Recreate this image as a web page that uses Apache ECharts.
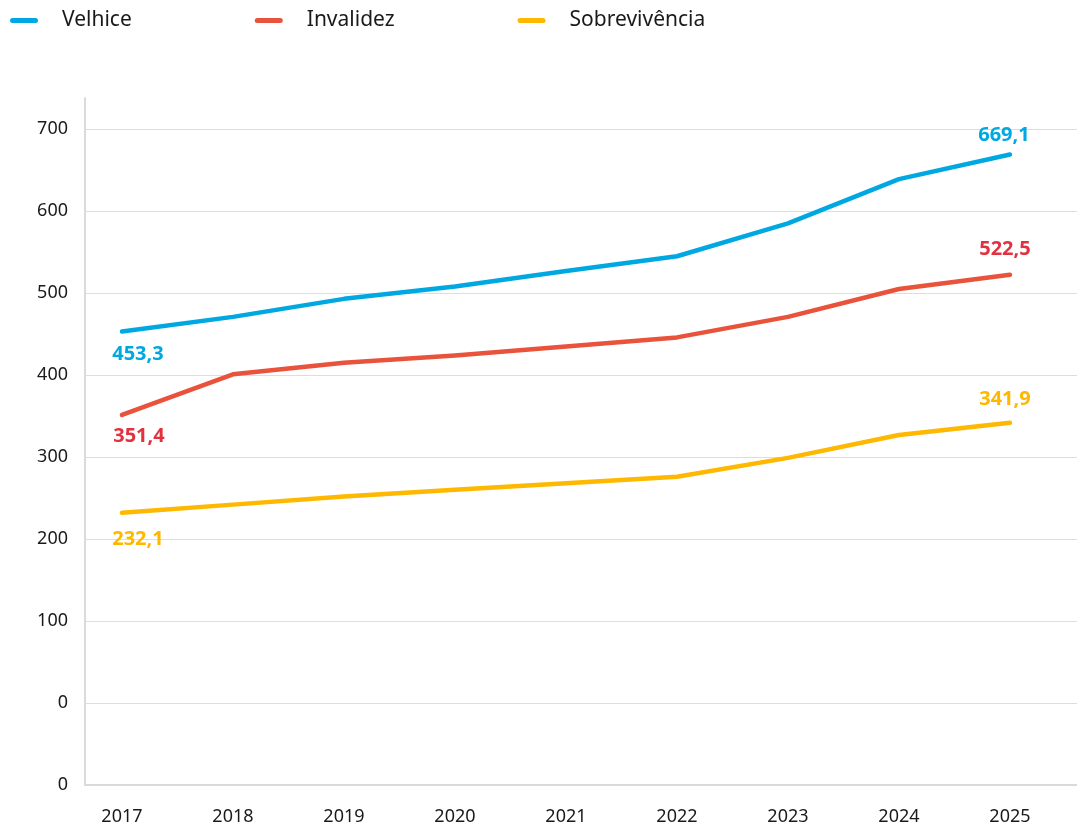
<!DOCTYPE html>
<html lang="pt">
<head>
    <meta charset="UTF-8">
    <title>Velhice, Invalidez, Sobrevivência</title>
    <script src="https://cdn.jsdelivr.net/npm/echarts@6.0.0/dist/echarts.min.js"></script>
    <style>
        * { margin: 0; padding: 0; }
        body { background: #ffffff; }
        #chart { width: 1077px; height: 828px; }
    </style>
</head>
<body>
    <div id="chart"></div>
    <script>
        // dados
        var anos = [2017, 2018, 2019, 2020, 2021, 2022, 2023, 2024, 2025];
        var velhice = [453.3, 471, 493, 508, 527, 545, 585, 639, 669.1];
        var invalidez = [351.4, 401, 415, 424, 435, 446, 471, 505, 522.5];
        var sobrevivencia = [232.1, 242, 252, 260, 268, 276, 299, 327, 341.9];
        var yTicks = [-100, 0, 100, 200, 300, 400, 500, 600, 700];

        var fmt = function (v) { return v.toFixed(1).replace('.', ','); };

        // só o primeiro e o último ponto levam rótulo
        function pontos(valores, cor, offIni, offFim) {
            return valores.map(function (v, i) {
                var item = { value: [anos[i], v] };
                if (i === 0 || i === valores.length - 1) {
                    item.label = {
                        show: true,
                        position: 'inside',
                        offset: i === 0 ? offIni : offFim,
                        formatter: function (p) { return fmt(p.value[1]); },
                        color: cor,
                        fontFamily: 'Noto Sans',
                        fontWeight: 'bold',
                        fontSize: 20
                    };
                }
                return item;
            });
        }

        function serie(nome, valores, corLinha, corRotulo, offIni, offFim) {
            return {
                name: nome,
                type: 'line',
                data: pontos(valores, corRotulo, offIni, offFim),
                symbol: 'circle',
                symbolSize: 1,
                showSymbol: true,
                itemStyle: { color: corLinha },
                lineStyle: { color: corLinha, width: 4.5, cap: 'round', join: 'round' },
                emphasis: { disabled: true }
            };
        }

        var chart = echarts.init(document.getElementById('chart'));
        chart.setOption({
            animation: false,
            legend: {
                left: 5,
                top: 5,
                itemWidth: 28,
                itemHeight: 5,
                itemGap: 123,
                icon: 'path://M2.5,0 H25.5 A2.5,2.5 0 0 1 25.5,5 H2.5 A2.5,2.5 0 0 1 2.5,0 Z',
                textStyle: {
                    fontFamily: 'Noto Sans',
                    fontSize: 21,
                    color: '#1a1a1a',
                    padding: [0, 0, 0, 19]
                },
                data: ['Velhice', 'Invalidez', 'Sobrevivência']
            },
            grid: { left: 85, right: 0, top: 98, bottom: 43 },
            xAxis: {
                type: 'value',
                min: 2016.667,
                max: 2025.604,
                axisLine: { onZero: false, lineStyle: { color: '#dadada', width: 2 } },
                axisTick: { show: false },
                splitLine: { show: false },
                axisLabel: {
                    customValues: anos,
                    formatter: function (v) { return String(Math.round(v)); },
                    fontFamily: 'Noto Sans',
                    fontSize: 18,
                    color: '#1a1a1a',
                    margin: 23
                }
            },
            yAxis: {
                type: 'value',
                min: -100,
                max: 738,
                interval: 100,
                axisLine: { show: true, onZero: false, lineStyle: { color: '#dadada', width: 2 } },
                axisTick: { show: false },
                splitLine: { show: true, showMaxLine: false, lineStyle: { color: '#dddddd', width: 1 } },
                axisLabel: {
                    customValues: yTicks,
                    formatter: function (v) {
                        if (v < 0) return '0';
                        return v % 100 === 0 ? String(v) : '';
                    },
                    fontFamily: 'Noto Sans',
                    fontSize: 18,
                    color: '#1a1a1a',
                    margin: 17
                }
            },
            series: [
                serie('Velhice', velhice, '#00a8e1', '#00a8e1', [16, 23], [-6, -19]),
                serie('Invalidez', invalidez, '#e9533b', '#e2313f', [17, 21], [-5, -25]),
                serie('Sobrevivência', sobrevivencia, '#ffb800', '#ffb800', [16, 27], [-5, -23])
            ]
        });
    </script>
</body>
</html>
